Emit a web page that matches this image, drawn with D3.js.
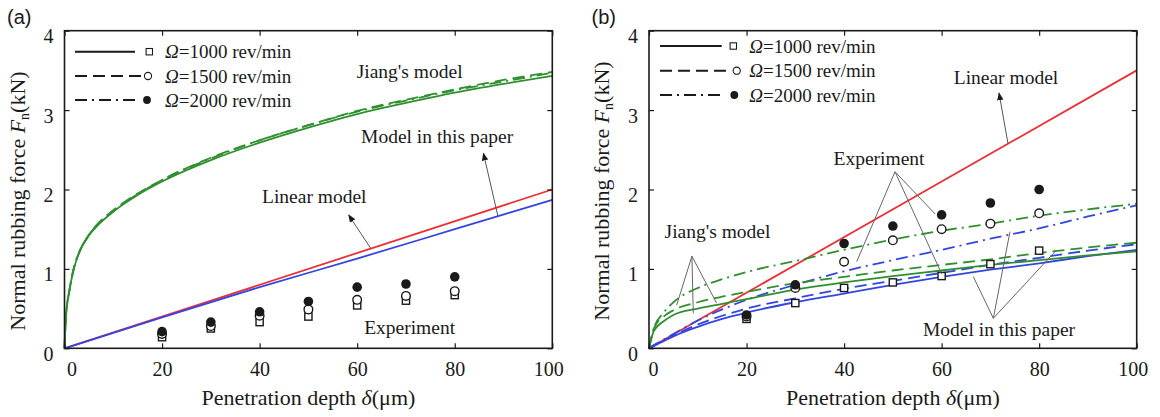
<!DOCTYPE html>
<html><head><meta charset="utf-8">
<script src="https://cdn.jsdelivr.net/npm/d3@7"></script>
<style>body{margin:0;background:#fff}svg{display:block}</style>
</head><body>
<svg id="c" width="1160" height="417"></svg>
<script>
// ---------- data ----------
const xTicks = [0, 20, 40, 60, 80, 100];
const yTicks = [0, 1, 2, 3, 4];
const speedLabels = ["1000", "1500", "2000"];
const expDepth = [20, 30, 40, 50, 60, 70, 80];

// Panel (a)
const jiangDepthA = [0, 0.3, 1, 2, 3, 5, 7, 10, 15, 20, 30, 40, 50, 60, 70, 80, 90, 100];
const jiangA1000 = [0, 0.40, 0.72, 1.02, 1.20, 1.42, 1.56, 1.72, 1.93, 2.10, 2.37, 2.59, 2.78, 2.95, 3.09, 3.22, 3.33, 3.43];
const jiangA1500 = [0, 0.40, 0.73, 1.03, 1.21, 1.43, 1.58, 1.74, 1.95, 2.12, 2.40, 2.62, 2.81, 2.99, 3.13, 3.26, 3.38, 3.48];
const jiangA2000 = [0, 0.40, 0.73, 1.03, 1.21, 1.43, 1.57, 1.73, 1.94, 2.12, 2.39, 2.62, 2.81, 2.98, 3.12, 3.25, 3.36, 3.47];
const linearDepthA = [0, 100];
const linearA = [0, 2.0];
const modelDepthA = [0, 20, 40, 60, 80, 100];
const modelA = [0, 0.39, 0.77, 1.13, 1.50, 1.87];
const expA1000 = [0.14, 0.25, 0.33, 0.40, 0.54, 0.60, 0.67];
const expA1500 = [0.18, 0.28, 0.41, 0.49, 0.61, 0.66, 0.72];
const expA2000 = [0.21, 0.33, 0.46, 0.59, 0.77, 0.81, 0.90];

// Panel (b)
const curveDepthB = [0, 1, 3, 5, 10, 15, 20, 30, 40, 50, 60, 70, 80, 90, 100];
const jiangB1000 = [0, 0.22, 0.34, 0.42, 0.50, 0.56, 0.62, 0.74, 0.83, 0.91, 0.98, 1.05, 1.11, 1.17, 1.22];
const jiangB1500 = [0, 0.25, 0.40, 0.48, 0.58, 0.65, 0.71, 0.82, 0.90, 0.98, 1.05, 1.12, 1.20, 1.27, 1.33];
const jiangB2000 = [0, 0.25, 0.45, 0.58, 0.76, 0.87, 0.96, 1.10, 1.24, 1.37, 1.48, 1.57, 1.67, 1.75, 1.82];
const modelB1000 = [0, 0.03, 0.09, 0.15, 0.27, 0.37, 0.45, 0.58, 0.69, 0.80, 0.90, 0.99, 1.07, 1.16, 1.24];
const modelB1500 = [0, 0.03, 0.10, 0.16, 0.30, 0.41, 0.50, 0.63, 0.75, 0.85, 0.95, 1.05, 1.14, 1.23, 1.31];
const modelB2000 = [0, 0.04, 0.11, 0.18, 0.35, 0.49, 0.61, 0.80, 0.97, 1.11, 1.24, 1.38, 1.51, 1.66, 1.80];
const linearDepthB = [0, 100];
const linearB = [0, 3.5];
const expB1000 = [0.37, 0.57, 0.76, 0.83, 0.91, 1.06, 1.23];
const expB1500 = [0.40, 0.76, 1.09, 1.36, 1.50, 1.57, 1.70];
const expB2000 = [0.42, 0.80, 1.32, 1.54, 1.68, 1.83, 2.00];

// ---------- styles ----------
const GREEN = "#2f8f2f", RED = "#ec2f36", BLUE = "#3345e0", INK = "#1a1a1a";
const dashes = ["none", "12,6", "12,5,2,5"];
const SERIF = "'Liberation Serif','Times New Roman',serif";
const SANS = "'Liberation Sans',Arial,sans-serif";

const svg = d3.select("#c");
const zip = (xs, ys) => xs.map((x, i) => [x, ys[i]]);

function panel(cfg) {
  const x = d3.scaleLinear().domain([0, 100]).range(cfg.xr);
  const y = d3.scaleLinear().domain([0, 4]).range([348.3, 30.7]);
  const g = svg.append("g");
  const line = d3.line().x(d => x(d[0])).y(d => y(d[1])).curve(d3.curveMonotoneX);

  // curves
  cfg.curves.forEach(c => {
    g.append("path").datum(zip(c.xs, c.ys)).attr("d", line)
      .attr("fill", "none").attr("stroke", c.color).attr("stroke-width", 1.8)
      .attr("stroke-dasharray", dashes[c.style]);
  });

  // experiment markers
  const mk = [cfg.exp[0], cfg.exp[1], cfg.exp[2]];
  mk.forEach((vals, k) => {
    const pts = zip(expDepth, vals);
    if (k === 0) {
      g.selectAll(null).data(pts).join("rect")
        .attr("x", d => x(d[0]) - 3.6).attr("y", d => y(d[1]) - 3.6)
        .attr("width", 7.2).attr("height", 7.2)
        .attr("fill", "#fff").attr("stroke", INK).attr("stroke-width", 1.4);
    } else if (k === 1) {
      g.selectAll(null).data(pts).join("circle")
        .attr("cx", d => x(d[0])).attr("cy", d => y(d[1])).attr("r", 4.3)
        .attr("fill", "#fff").attr("stroke", INK).attr("stroke-width", 1.4);
    } else {
      g.selectAll(null).data(pts).join("circle")
        .attr("cx", d => x(d[0])).attr("cy", d => y(d[1])).attr("r", 4.8)
        .attr("fill", INK);
    }
  });

  // axes
  const ax = g.append("g").attr("transform", `translate(0,${y(0)})`)
    .call(d3.axisBottom(x).tickValues(xTicks).tickSize(-5).tickPadding(13.5));
  ax.selectAll("text").attr("dx", (d, i) => i === 0 ? cfg.firstDx : (i === xTicks.length - 1 ? -4 : 0));
  const ay = g.append("g").attr("transform", `translate(${x(0)},0)`)
    .call(d3.axisLeft(y).tickValues(yTicks).tickFormat(d3.format("d")).tickSize(-5).tickPadding(11));
  ay.selectAll("text").attr("dy", "0.6em");
  g.append("g").attr("transform", `translate(0,${y(4)})`)
    .call(d3.axisTop(x).tickValues(xTicks).tickSize(-5).tickFormat(""));
  g.append("g").attr("transform", `translate(${x(100)},0)`)
    .call(d3.axisRight(y).tickValues(yTicks).tickSize(-5).tickFormat(""));
  g.selectAll(".domain").remove();
  g.selectAll(".tick line").attr("stroke", INK).attr("stroke-width", 1.2);
  g.selectAll(".tick text").attr("font-family", SERIF).attr("font-size", 20).attr("fill", INK);

  g.append("rect").attr("x", x(0)).attr("y", y(4))
    .attr("width", x(100) - x(0)).attr("height", y(0) - y(4))
    .attr("fill", "none").attr("stroke", INK).attr("stroke-width", 1.6);

  // legend
  const L = cfg.legend;
  speedLabels.forEach((s, i) => {
    const ly = L.y[i];
    g.append("line").attr("x1", L.x0).attr("x2", L.x1[i]).attr("y1", ly).attr("y2", ly)
      .attr("stroke", INK).attr("stroke-width", 2).attr("stroke-dasharray", dashes[i]);
    const mx = L.mx[i];
    if (i === 0) g.append("rect").attr("x", mx - 3.2).attr("y", ly - 3.2).attr("width", 6.4).attr("height", 6.4)
      .attr("fill", "#fff").attr("stroke", INK).attr("stroke-width", 1.1);
    else if (i === 1) g.append("circle").attr("cx", mx).attr("cy", ly).attr("r", 3.6)
      .attr("fill", "#fff").attr("stroke", INK).attr("stroke-width", 1.1);
    else g.append("circle").attr("cx", mx).attr("cy", ly).attr("r", 3.9).attr("fill", INK);
    const t = g.append("text").attr("x", L.tx).attr("y", ly + 6.5)
      .attr("font-family", SERIF).attr("font-size", 19).attr("fill", INK);
    t.append("tspan").attr("font-style", "italic").text("Ω");
    t.append("tspan").text(`=${s} rev/min`);
  });

  // annotations
  const defs = svg.select("defs").empty() ? svg.append("defs") : svg.select("defs");
  if (defs.select("#ah").empty()) {
    defs.append("marker").attr("id", "ah").attr("viewBox", "0 0 10 10").attr("refX", 9).attr("refY", 5)
      .attr("markerWidth", 8).attr("markerHeight", 8).attr("orient", "auto-start-reverse")
      .attr("markerUnits", "userSpaceOnUse")
      .append("path").attr("d", "M0,1 L10,5 L0,9 z").attr("fill", INK);
  }
  cfg.notes.forEach(n => {
    g.append("text").attr("x", x(n.at[0])).attr("y", y(n.at[1])).attr("text-anchor", "middle")
      .attr("font-family", SERIF).attr("font-size", 19.5).attr("fill", INK).text(n.text);
    (n.arrows || []).forEach(a => {
      g.append("line").attr("x1", x(a[0])).attr("y1", y(a[1])).attr("x2", x(a[2])).attr("y2", y(a[3]))
        .attr("stroke", "#555").attr("stroke-width", 1).attr("marker-end", "url(#ah)");
    });
    (n.leaders || []).forEach(a => {
      g.append("line").attr("x1", x(a[0])).attr("y1", y(a[1])).attr("x2", x(a[2])).attr("y2", y(a[3]))
        .attr("stroke", "#666").attr("stroke-width", 1);
    });
  });

  // titles
  const xt = g.append("text").attr("x", (x(0) + x(100)) / 2).attr("y", 405).attr("text-anchor", "middle")
    .attr("font-family", SERIF).attr("font-size", 22).attr("fill", INK);
  xt.append("tspan").text("Penetration depth ");
  xt.append("tspan").attr("font-style", "italic").text("δ");
  xt.append("tspan").text("(μm)");

  const yt = g.append("text").attr("transform", `translate(${cfg.ytx},${cfg.ytc}) rotate(-90)`)
    .attr("text-anchor", "middle").attr("font-family", SERIF).attr("font-size", 22).attr("fill", INK);
  yt.append("tspan").text("Normal rubbing force ");
  yt.append("tspan").attr("font-style", "italic").text("F");
  yt.append("tspan").attr("font-size", 14).attr("dy", 4).text("n");
  yt.append("tspan").attr("dy", -4).text("(kN)");

  svg.append("text").attr("x", cfg.lab[0]).attr("y", 23.5).attr("font-family", SANS)
    .attr("font-size", 20).attr("fill", INK).text(cfg.lab[1]);
}

panel({
  xr: [64.5, 552.3], firstDx: 7, ytx: 25, ytc: 201, lab: [7, "(a)"],
  curves: [
    { xs: linearDepthA, ys: linearA, color: RED, style: 0 },
    { xs: modelDepthA, ys: modelA, color: BLUE, style: 0 },
    { xs: jiangDepthA, ys: jiangA2000, color: GREEN, style: 2 },
    { xs: jiangDepthA, ys: jiangA1500, color: GREEN, style: 1 },
    { xs: jiangDepthA, ys: jiangA1000, color: GREEN, style: 0 }
  ],
  exp: [expA1000, expA1500, expA2000],
  legend: { x0: 75, x1: [135, 143, 138], mx: [149.3, 148, 147], tx: 165, y: [51.7, 76, 100] },
  notes: [
    { text: "Jiang's model", at: [70.75, 3.40] },
    { text: "Model in this paper", at: [76.4, 2.586], arrows: [[88.87, 1.66, 85.88, 2.456]] },
    { text: "Linear model", at: [51.2, 1.83], arrows: [[62.8, 1.256, 58.26, 1.679]] },
    { text: "Experiment", at: [70.75, 0.18] }
  ]
});

panel({
  xr: [649, 1136.7], firstDx: 4, ytx: 609, ytc: 191, lab: [591.5, "(b)"],
  curves: [
    { xs: linearDepthB, ys: linearB, color: RED, style: 0 },
    { xs: curveDepthB, ys: modelB2000, color: BLUE, style: 2 },
    { xs: curveDepthB, ys: modelB1500, color: BLUE, style: 1 },
    { xs: curveDepthB, ys: modelB1000, color: BLUE, style: 0 },
    { xs: curveDepthB, ys: jiangB2000, color: GREEN, style: 2 },
    { xs: curveDepthB, ys: jiangB1500, color: GREEN, style: 1 },
    { xs: curveDepthB, ys: jiangB1000, color: GREEN, style: 0 }
  ],
  exp: [expB1000, expB1500, expB2000],
  legend: { x0: 660, x1: [721.7, 728, 724], mx: [733.3, 736.7, 734.3], tx: 749.3, y: [46, 70.7, 95] },
  notes: [
    { text: "Linear model", at: [73.2, 3.33], arrows: [[73.61, 2.579, 71.77, 3.215]] },
    { text: "Experiment", at: [47.16, 2.309],
      leaders: [[50.44, 2.224, 42.59, 1.091], [50.44, 2.224, 60.02, 0.936], [50.44, 2.224, 58.68, 1.691]] },
    { text: "Jiang's model", at: [14.05, 1.389],
      leaders: [[8.8, 1.16, 5.68, 0.545], [8.8, 1.16, 13.88, 0.567], [8.8, 1.16, 9.08, 0.441]] },
    { text: "Model in this paper", at: [71.77, 0.155],
      leaders: [[70.6, 0.378, 66.5, 0.902], [70.6, 0.378, 74.02, 1.469], [70.6, 0.378, 83.25, 1.217]] }
  ]
});
</script>
</body></html>
